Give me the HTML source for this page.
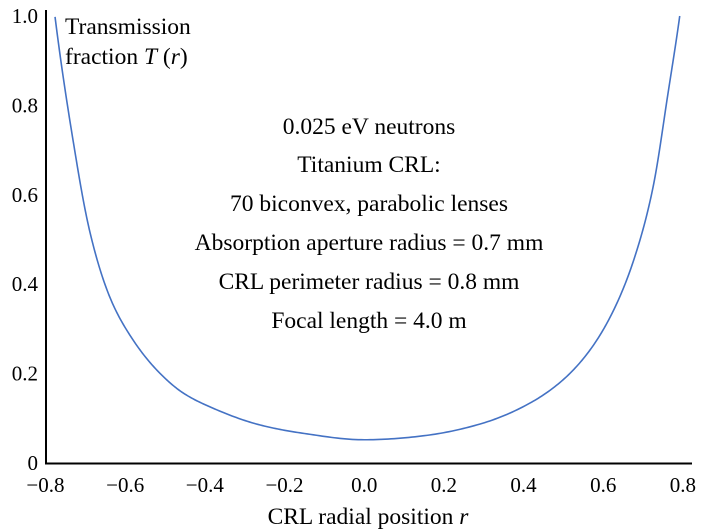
<!DOCTYPE html>
<html><head><meta charset="utf-8"><style>
body{margin:0;background:#fff;}
svg{display:block;font-family:"Liberation Serif",serif;}
</style></head><body>
<svg id="chart" width="702" height="531">
<g id="axes"></g><path id="curve" fill="none" stroke="#4472c4" stroke-width="1.6"></path>
<g font-size="23.5" text-anchor="middle" fill="#000">
<text x="369" y="134">0.025 eV neutrons</text>
<text x="369" y="172">Titanium CRL:</text>
<text x="369" y="211">70 biconvex, parabolic lenses</text>
<text x="369" y="250">Absorption aperture radius = 0.7 mm</text>
<text x="369" y="289">CRL perimeter radius = 0.8 mm</text>
<text x="369" y="328">Focal length = 4.0 m</text>
</g>
<g font-size="23.5" fill="#000">
<text x="65" y="34">Transmission</text>
<text x="65" y="64">fraction <tspan font-style="italic">T</tspan> (<tspan font-style="italic">r</tspan>)</text>
</g>
<text x="368" y="524" font-size="23.5" text-anchor="middle">CRL radial position <tspan font-style="italic">r</tspan></text>
</svg>
<script>
const rVals=[-0.776,-0.731,-0.688,-0.638,-0.58,-0.513,-0.455,-0.37,-0.261,-0.15,0,0.15,0.29,0.416,0.499,0.567,0.625,0.675,0.725,0.76,0.792];
const tVals=[0.998,0.723,0.515,0.37,0.275,0.201,0.157,0.119,0.085,0.066,0.052,0.061,0.087,0.134,0.186,0.253,0.34,0.45,0.617,0.812,1.0];
const xTicks=[-0.8,-0.6,-0.4,-0.2,0,0.2,0.4,0.6,0.8];
const xTickLabels=["\u22120.8","\u22120.6","\u22120.4","\u22120.2","0.0","0.2","0.4","0.6","0.8"];
const yTicks=[0,0.2,0.4,0.6,0.8,1.0];
const yTickLabels=["0","0.2","0.4","0.6","0.8","1.0"];
const X=r=>364.2+r*398.4;
const Y=t=>463-t*447;
const ns="http://www.w3.org/2000/svg";
const axes=document.getElementById('axes');
function mk(tag,attrs,txt){const e=document.createElementNS(ns,tag);for(const k in attrs)e.setAttribute(k,attrs[k]);if(txt!=null)e.textContent=txt;axes.appendChild(e);return e;}
const ya=mk('line',{x1:46,y1:10,x2:46,y2:464,stroke:'#000','stroke-width':2});


const xa=mk('line',{x1:45,y1:463.5,x2:692,y2:463.5,stroke:'#000','stroke-width':2});


xTicks.forEach((v,i)=>{const t=mk('text',{x:X(v),y:492,'font-size':21,'text-anchor':'middle'},xTickLabels[i]);

});
yTicks.forEach((v,i)=>{const t=mk('text',{x:38,y:Y(v)+7,'font-size':21,'text-anchor':'end'},yTickLabels[i]);

});
// smooth curve in log space (monotone-ish), sampled densely
const lx=rVals, ly=tVals.map(Math.log);
const n=lx.length, m=new Array(n);
const dd=[];for(let i=0;i<n-1;i++)dd.push((ly[i+1]-ly[i])/(lx[i+1]-lx[i]));
m[0]=dd[0];m[n-1]=dd[n-2];
for(let i=1;i<n-1;i++){m[i]=(dd[i-1]*dd[i]<=0)?0:(dd[i-1]+dd[i])/2;}
let d='';
for(let i=0;i<n-1;i++){const h=lx[i+1]-lx[i];
for(let k=0;k<=20;k++){if(i>0&&k===0)continue;const s=k/20;
const h00=2*s*s*s-3*s*s+1,h10=s*s*s-2*s*s+s,h01=-2*s*s*s+3*s*s,h11=s*s*s-s*s;
const v=h00*ly[i]+h10*h*m[i]+h01*ly[i+1]+h11*h*m[i+1];
const r=lx[i]+s*h;
d+=(d?' L':'M')+X(r).toFixed(2)+','+Y(Math.exp(v)).toFixed(2);}}
document.getElementById('curve').setAttribute('d',d);
</script>
</body></html>
